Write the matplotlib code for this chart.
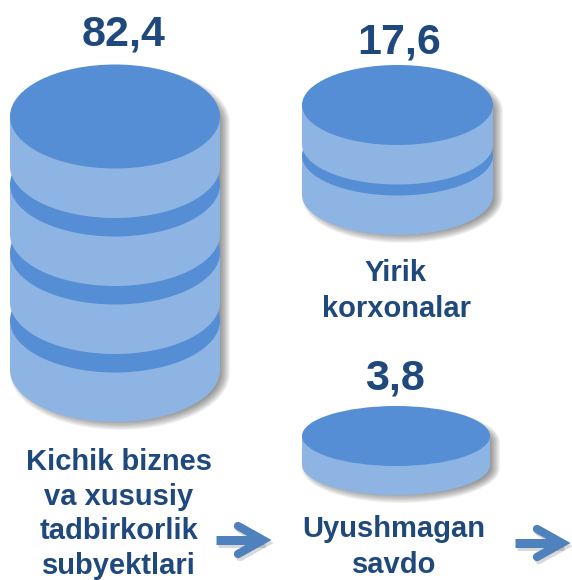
import matplotlib
matplotlib.use("Agg")
import matplotlib.pyplot as plt
from matplotlib.patches import Ellipse, Polygon
import numpy as np

values = ["82,4", "17,6", "3,8"]
layers = [4, 2, 1]
labels = [
    ["Kichik biznes", "va xususiy", "tadbirkorlik", "subyektlari"],
    ["Yirik", "korxonalar"],
    ["Uyushmagan", "savdo"],
]

DARK = "#558ED5"
LIGHT = "#8EB4E3"
TEXT = "#1F497D"
ARROW = "#4F81BD"

plt.rcParams["font.family"] = ["Liberation Sans", "DejaVu Sans"]

fig = plt.figure(figsize=(5.72, 5.80), dpi=100)
ax = fig.add_axes([0, 0, 1, 1])
ax.set_xlim(0, 572)
ax.set_ylim(580, 0)
ax.axis("off")


def side_path(cx, rx, ry, y_top, y_bot):
    t = np.linspace(0, np.pi, 100)
    xs = np.r_[cx + rx * np.cos(t), cx - rx, cx + rx]
    ys = np.r_[y_bot + ry * np.sin(t), y_top, y_top]
    return np.column_stack([xs, ys])


def capsule(cx, rx, ry, y_top, y_bot):
    t = np.linspace(0, np.pi, 100)
    xs = np.r_[cx + rx * np.cos(t), cx - rx * np.cos(t)]
    ys = np.r_[y_bot + ry * np.sin(t), y_top - ry * np.sin(t)]
    return np.column_stack([xs, ys])


def cylinder(cx, rx, ry, top, side, gap, n):
    bottom = top + n * side + (n - 1) * gap
    # blurred shadow, stacked faint copies growing outward
    for d in np.linspace(-5, 5, 14):
        ax.add_patch(Polygon(capsule(cx + 5, rx + d, ry + d, top + 6, bottom + 3), closed=True,
                             fc="#404040", ec="none", alpha=0.05, zorder=1))
    for i in range(n - 1, -1, -1):
        y0 = top + i * (side + gap)
        y1 = y0 + side
        if i < n - 1:
            ax.add_patch(Ellipse((cx, y1 + gap), 2 * rx, 2 * ry, fc=DARK, ec="none", zorder=2))
        ax.add_patch(Polygon(side_path(cx, rx, ry, y0, y1), closed=True, fc=LIGHT, ec="none", zorder=2))
        if i == 0:
            ax.add_patch(Ellipse((cx, y0), 2 * rx, 2 * ry, fc=DARK, ec="none", zorder=2))


cylinder(115, 105, 52, 116.5, 49.5, 18.5, layers[0])
cylinder(397.5, 95.5, 40, 105, 39.5, 11, layers[1])
cylinder(396, 94, 30, 436, 29, 0, layers[2])

for txt, x, y in zip(values, [124, 399, 395], [46, 54, 390]):
    ax.text(x, y, txt, ha="center", va="baseline", fontsize=31, fontweight="bold", color=TEXT)

for lines, x, y, step in zip(labels, [119, 396, 394], [470, 281, 537], [34.6, 35.6, 35.6]):
    for i, line in enumerate(lines):
        ax.text(x, y + i * step, line, ha="center", va="baseline", fontsize=21, fontweight="bold", color=TEXT)

for x0, tip, y in [(216, 272, 540), (515, 571, 543)]:
    px = tip - 9
    for dx, dy, col, a, z in [(2, 3, "#555555", 0.22, 3), (0, 0, ARROW, 1, 4)]:
        ax.plot([x0 + dx, px + dx], [y + dy, y + dy], color=col, alpha=a, lw=6.5,
                solid_capstyle="butt", zorder=z)
        ax.plot([px - 25 + dx, px + dx, px - 25 + dx], [y - 14 + dy, y + dy, y + 14 + dy], color=col, alpha=a,
                lw=6, solid_capstyle="round", solid_joinstyle="miter", zorder=z)

fig.savefig("out.png", dpi=100)
